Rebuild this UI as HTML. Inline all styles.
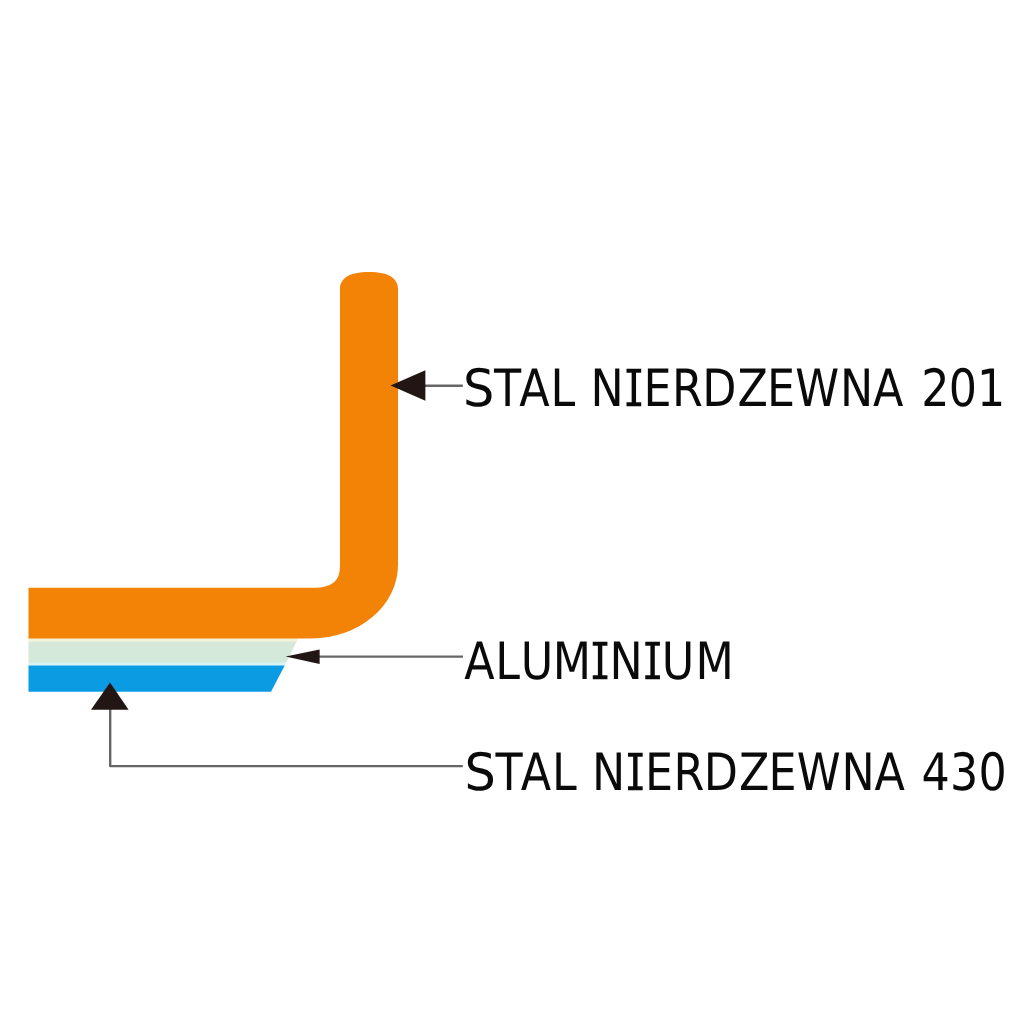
<!DOCTYPE html>
<html lang="pl">
<head>
<meta charset="utf-8">
<title>Przekrój dna - warstwy</title>
<style>
html,body{margin:0;padding:0;background:#fff;}
body{width:1024px;height:1024px;overflow:hidden;position:relative;}
svg{display:block;position:absolute;left:0;top:0;}
text{font-family:"DejaVu Sans Condensed","DejaVu Sans","Liberation Sans",sans-serif;font-size:51.4px;fill:#0a0a0a;text-rendering:geometricPrecision;}
tspan.i{font-family:"IPAGothic","DejaVu Sans Mono","Liberation Mono",monospace;font-size:53.5px;}
tspan.w{font-family:"DejaVu Sans","Liberation Sans",sans-serif;}
</style>
</head>
<body>
<svg width="1024" height="1024" viewBox="0 0 1024 1024" role="img" aria-label="STAL NIERDZEWNA 201, ALUMINIUM, STAL NIERDZEWNA 430">
  <desc>Przekrój dna naczynia: STAL NIERDZEWNA 201 / ALUMINIUM / STAL NIERDZEWNA 430</desc>
  <rect width="1024" height="1024" fill="#ffffff"/>
  <defs>
    <linearGradient id="alu" x1="0" y1="638" x2="0" y2="666" gradientUnits="userSpaceOnUse">
      <stop offset="0" stop-color="#f6f1d6"/>
      <stop offset="0.11" stop-color="#f3f3dc"/>
      <stop offset="0.15" stop-color="#d6e8da"/>
      <stop offset="0.85" stop-color="#d3e9da"/>
      <stop offset="0.9" stop-color="#d8f3f4"/>
      <stop offset="1" stop-color="#d8f3f4"/>
    </linearGradient>
  </defs>
  <g id="art">
  <!-- aluminium layer -->
  <polygon points="28.5,637 299,637 284.6,665.5 28.5,665.5" fill="url(#alu)"/>
  <!-- steel 430 layer -->
  <polygon points="28.5,665.4 284.7,665.4 271,691.7 28.5,691.7" fill="#0b9be3"/>
  <!-- steel 201 body -->
  <path id="body" d="M28.5,587.8 L312.5,587.8 C334,587.8 340,580 340,565 L340,289 C340,278.5 349,272 369,272 C389,272 398,278.5 398,289 L398,564.9 A86.5,73.5 0 0 1 311.5,638.4 L28.5,638.4 Z" fill="#f28306"/>
  <!-- leader lines -->
  <g stroke="#666666" stroke-width="2.4" fill="none" stroke-linejoin="round">
    <line x1="424" y1="385.7" x2="462.8" y2="385.7"/>
    <line x1="318" y1="656.6" x2="463" y2="656.6"/>
    <polyline points="110.2,708 110.2,766.1 462.8,766.1"/>
  </g>
  <!-- arrow heads -->
  <g fill="#211614">
    <polygon points="390.6,385.6 425.4,370.2 425.4,400.8"/>
    <polygon points="285.6,656.5 319.6,649.4 319.6,664"/>
    <polygon points="110,682.6 91,709.8 128.6,709.8"/>
  </g>
  <g id="labels">
  <text transform="scale(0.96,1)" x="482.38 514.46 540.91 573.44 599.19 615.21 646.78 670.33 700.09 731.55 768.28 799.08 828.31 874.90 909.50 941.12 959.59 988.16 1017.74" y="406 406 406 406 406 406 409 406 406 406 406 406 406 406 406 406 406 406 406"><tspan class="w">S</tspan>TAL N<tspan class="i">I</tspan>ERDZEWNA 201</text>
  <text transform="scale(0.96,1)" x="483.54 515.81 542.50 575.82 611.68 634.87 666.31 689.43 724.36" y="679 679 679 679 682 679 682 679 679">ALUM<tspan class="i">I</tspan>N<tspan class="i">I</tspan>UM</text>
  <text transform="scale(0.96,1)" x="483.94 516.03 542.47 575.01 600.76 616.77 648.34 671.89 701.65 733.11 769.84 800.64 829.87 876.46 911.06 942.69 959.82 989.66 1019.15" y="790 790 790 790 790 790 793 790 790 790 790 790 790 790 790 790 790 790 790"><tspan class="w">S</tspan>TAL N<tspan class="i">I</tspan>ERDZEWNA 430</text>
  </g>
  </g>
</svg>
</body>
</html>
